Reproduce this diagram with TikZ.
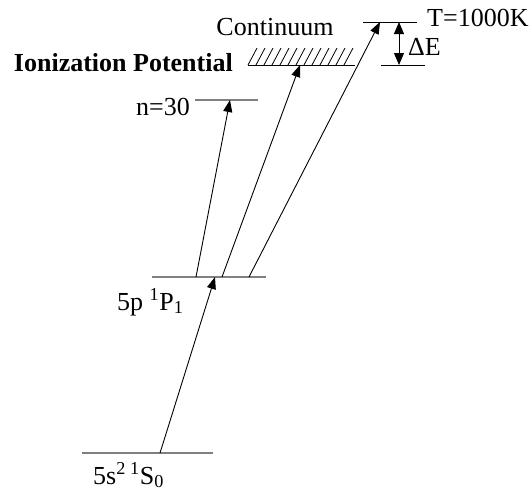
\documentclass[tikz,border=0pt]{standalone}
\usepackage{fontspec}
\setmainfont{Liberation Serif}
\usetikzlibrary{arrows.meta,positioning,calc}
\definecolor{levelgray}{HTML}{808080}

\begin{document}
\begin{tikzpicture}[
  x=1pt, y=-1pt,
  level/.style={draw=levelgray, line width=1.4pt},
  excite/.style={-{Triangle[length=12pt, width=9pt]}, line width=0.9pt},
  lbl/.style={font=\fontsize{26}{31}\selectfont, inner sep=0pt},
]
  \useasboundingbox (0,0) rectangle (531,491);

  % energy levels
  \coordinate (gsL) at (82,453);  \coordinate (gsR) at (213,453);
  \coordinate (ppL) at (152,277); \coordinate (ppR) at (266,277);
  \coordinate (ryL) at (195,100); \coordinate (ryR) at (258,100);
  \coordinate (ipL) at (248,65);  \coordinate (ipR) at (355,65);
  \coordinate (thL) at (363,22);  \coordinate (thR) at (417,22);
  \coordinate (deL) at (381,65);  \coordinate (deR) at (425,65);

  \draw[level] (gsL) -- (gsR);
  \draw[level] (ppL) -- (ppR);
  \draw[level] (ryL) -- (ryR);
  \draw[line width=0.9pt] (ipL) -- (ipR);
  \draw[line width=0.9pt] (thL) -- (thR);
  \draw[line width=0.9pt] (deL) -- (deR);

  % continuum hatching
  \foreach \k in {0,...,12}
    \draw[line width=0.8pt] ($(ipL)+(8*\k,0)$) -- ++(9,-17);

  % transitions
  \coordinate (a0) at (160,453); \coordinate (a1) at (215,277);
  \coordinate (b0) at (196,277); \coordinate (b1) at (230,100);
  \coordinate (c0) at (222,277); \coordinate (c1) at (300,65);
  \coordinate (d0) at (249,277); \coordinate (d1) at (380,22);
  \coordinate (e0) at (399,22);  \coordinate (e1) at (399,65);

  \draw[excite] (a0) -- (a1);
  \draw[excite] (b0) -- (b1);
  \draw[excite] (c0) -- (c1);
  \draw[excite] (d0) -- (d1);
  \draw[{Triangle[length=12pt, width=10pt]}-{Triangle[length=12pt, width=10pt]}, line width=0.9pt] (e0) -- (e1);

  % labels
  \node[lbl, anchor=base west] (gsT) at (93,484) {5s\textsuperscript{2}\,\textsuperscript{1}S\textsubscript{0}};
  \node[lbl, anchor=base west] (ppT) at (117,310) {5p \textsuperscript{1}P\textsubscript{1}};
  \node[lbl, anchor=base east] (ryT) at (190,115) {n=30};
  \node[lbl, anchor=base east, font=\fontsize{26}{31}\selectfont\bfseries] (ipT) at (233,71) {Ionization Potential};
  \node[lbl, anchor=base] (coT) at (275,35) {Continuum};
  \node[lbl, anchor=base west] (thT) at (427,26) {T=1000K};
  \node[lbl, anchor=base west] (deT) at (408,55) {ΔE};
\end{tikzpicture}
\end{document}
